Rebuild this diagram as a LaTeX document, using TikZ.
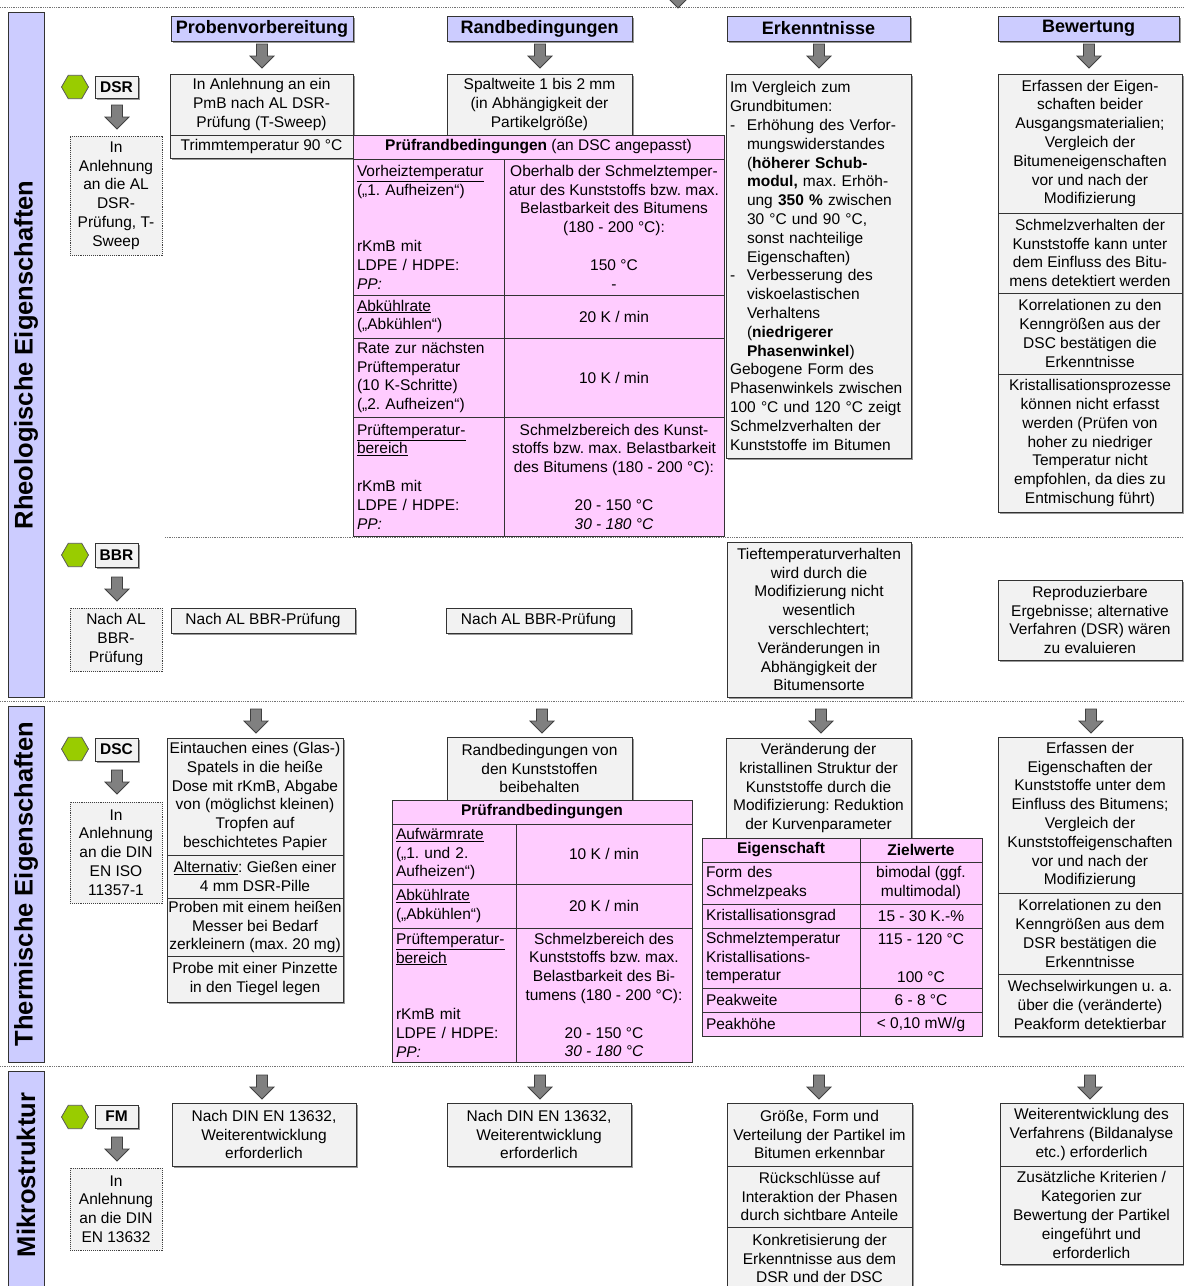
\documentclass[tikz,border=0pt]{standalone}
\usepackage{fontspec}
\setmainfont{Liberation Sans}
\usetikzlibrary{shapes.geometric,shadows}

\definecolor{lavender}{HTML}{CCCCFF}
\definecolor{boxgray}{HTML}{F2F2F2}
\definecolor{tablepink}{HTML}{FFCCFF}
\definecolor{hexgreen}{HTML}{99CC00}
\definecolor{arrowfill}{HTML}{808080}
\definecolor{edge}{HTML}{333333}

\frenchspacing
\newcommand\bodyfont{\fontsize{15.5}{18.8}\selectfont}
\newcommand\headfont{\fontsize{18}{21}\selectfont\bfseries}
\newcommand\sidefont{\fontsize{25.5}{28}\selectfont\bfseries}
\newcommand\ind{\hspace*{17pt}}
\newcommand\itemdash{\makebox[17pt][l]{-}}
\newcommand\gap{\mbox{}}

% box between the corners (#3,#4) and (#5,#6), text centred
\newcommand\bx[7][]{%
  \pgfmathsetmacro\bxw{#5-#3}\pgfmathsetmacro\bxh{#6-#4}%
  \pgfmathsetmacro\bxcx{(#3+#5)/2}\pgfmathsetmacro\bxcy{(#4+#6)/2}%
  \node[cell,#1,minimum width=\bxw pt,minimum height=\bxh pt,boxshadow] (#2) at (\bxcx,\bxcy) {#7};}
% same box, text set flush left
\newcommand\bxl[7][]{%
  \pgfmathsetmacro\bxw{#5-#3}\pgfmathsetmacro\bxh{#6-#4}%
  \pgfmathsetmacro\bxtw{#5-#3-8}%
  \pgfmathsetmacro\bxcx{(#3+#5)/2}\pgfmathsetmacro\bxcy{(#4+#6)/2}%
  \node[cell,#1,align=left,text width=\bxtw pt,minimum width=\bxw pt,minimum height=\bxh pt,boxshadow] (#2) at (\bxcx,\bxcy) {#7};}

\begin{document}
\begin{tikzpicture}[x=1pt,y=-1pt,
  cell/.style={draw=edge, line width=0.9pt, fill=boxgray, inner sep=0pt, font=\bodyfont, align=center},
  boxshadow/.style={drop shadow={shadow xshift=1.6pt, shadow yshift=-1.6pt, fill=black!40, opacity=1}},
  noshadow/.style={boxshadow/.style={}},
  pinkcell/.style={fill=tablepink, noshadow},
  headcell/.style={fill=lavender, font=\headfont},
  tagcell/.style={font=\bodyfont\bfseries},
  dotcell/.style={densely dotted, draw=black!75, noshadow},
  sidebar/.style={fill=lavender, noshadow},
  sidelabel/.style={font=\sidefont, rotate=90, inner sep=0pt},
  sep/.style={densely dotted, draw=black!55, line width=0.8pt},
  hexa/.style={regular polygon, regular polygon sides=6, minimum size=27pt, inner sep=0pt,
    fill=hexgreen, draw=black!65, line width=0.8pt},
  dnarrow/.pic={\draw[fill=arrowfill, draw=black!75, line width=0.8pt]
    (-5.5,0) -- (5.5,0) -- (5.5,12) -- (12,12) -- (0,24) -- (-12,12) -- (-5.5,12) -- cycle;}
]
\useasboundingbox (0,0) rectangle (1184,1286);

% section separators
\draw[sep] (0,7) -- (1184,7);
\draw[sep] (0,701) -- (1184,701);
\draw[sep] (0,1066) -- (1184,1066);
\draw[sep] (165,537) -- (1184,537);
\pic at (678,-16) {dnarrow};

% side bars
\bx[sidebar]{barRheo}{8}{12}{44}{697}{}
\node[sidelabel] (labRheo) at (26,355) {Rheologische Eigenschaften};
\bx[sidebar]{barTherm}{8}{706}{44}{1062}{}
\node[sidelabel] (labTherm) at (26,884) {Thermische Eigenschaften};
\bx[sidebar]{barMikro}{8}{1071}{44}{1296}{}
\node[sidelabel] (labMikro) at (26,1175) {Mikrostruktur};

% column heads
\bx[headcell]{hdProb}{171}{16}{353}{41}{Probenvorbereitung}
\bx[headcell]{hdRand}{447}{16}{632}{41}{Randbedingungen}
\bx[headcell]{hdErk}{727}{16}{910}{41}{Erkenntnisse}
\bx[headcell]{hdBew}{998}{16}{1179}{41}{Bewertung}
\pic at (262,44) {dnarrow};
\pic at (540,44) {dnarrow};
\pic at (819,44) {dnarrow};
\pic at (1089,44) {dnarrow};

% ---------------- DSR ----------------
\node[hexa] (hexDSR) at (75,87) {};
\bx[tagcell]{tagDSR}{95}{76}{138}{98}{DSR}
\pic at (117,105) {dnarrow};
\bx[dotcell]{refDSR}{70}{136}{162}{255}{In\\Anlehnung\\an die AL\\DSR-\\Prüfung, T-\\Sweep}
\bx{probDSR}{170}{74}{353}{135}{In Anlehnung an ein\\PmB nach AL DSR-\\Prüfung (T-Sweep)}
\bx{trimDSR}{170}{135}{353}{158}{Trimmtemperatur 90 °C}
\bx{randDSR}{447}{74}{632}{135}{Spaltweite 1 bis 2 mm\\(in Abhängigkeit der\\Partikelgröße)}

\bx[pinkcell]{tD0}{353}{135}{724}{159}{\textbf{Prüfrandbedingungen} (an DSC angepasst)}
\bxl[pinkcell]{tD1a}{353}{159}{504}{295}{\underline{Vorheiztemperatur}\\(„1. Aufheizen“)\\\gap\\\gap\\rKmB mit\\LDPE / HDPE:\\\textit{PP:}}
\bx[pinkcell]{tD1b}{504}{159}{724}{295}{Oberhalb der Schmelztemper-\\atur des Kunststoffs bzw. max.\\Belastbarkeit des Bitumens\\(180 - 200 °C):\\\gap\\150 °C\\-}
\bxl[pinkcell]{tD2a}{353}{295}{504}{338}{\underline{Abkühlrate}\\(„Abkühlen“)}
\bx[pinkcell]{tD2b}{504}{295}{724}{338}{20 K / min}
\bxl[pinkcell]{tD3a}{353}{338}{504}{417}{Rate zur nächsten\\Prüftemperatur\\(10 K-Schritte)\\(„2. Aufheizen“)}
\bx[pinkcell]{tD3b}{504}{338}{724}{417}{10 K / min}
\bxl[pinkcell]{tD4a}{353}{417}{504}{536}{\underline{Prüftemperatur-}\\\underline{bereich}\\\gap\\rKmB mit\\LDPE / HDPE:\\\textit{PP:}}
\bx[pinkcell]{tD4b}{504}{417}{724}{536}{Schmelzbereich des Kunst-\\stoffs bzw. max. Belastbarkeit\\des Bitumens (180 - 200 °C):\\\gap\\20 - 150 °C\\\textit{30 - 180 °C}}

\bxl{erkDSR}{726}{74}{911}{458}{Im Vergleich zum\\Grundbitumen:\\
\itemdash Erhöhung des Verfor-\\\ind mungswiderstandes\\\ind (\textbf{höherer Schub-}\\\ind \textbf{modul,} max. Erhöh-\\\ind ung \textbf{350 \%} zwischen\\\ind 30 °C und 90 °C,\\\ind sonst nachteilige\\\ind Eigenschaften)\\
\itemdash Verbesserung des\\\ind viskoelastischen\\\ind Verhaltens\\\ind (\textbf{niedrigerer}\\\ind \textbf{Phasenwinkel})\\
Gebogene Form des\\Phasenwinkels zwischen\\100 °C und 120 °C zeigt\\Schmelzverhalten der\\Kunststoffe im Bitumen}

\bx{bewDSRa}{998}{74}{1182}{213}{Erfassen der Eigen-\\schaften beider\\Ausgangsmaterialien;\\Vergleich der\\Bitumeneigenschaften\\vor und nach der\\Modifizierung}
\bx{bewDSRb}{998}{213}{1182}{293}{Schmelzverhalten der\\Kunststoffe kann unter\\dem Einfluss des Bitu-\\mens detektiert werden}
\bx{bewDSRc}{998}{293}{1182}{374}{Korrelationen zu den\\Kenngrößen aus der\\DSC bestätigen die\\Erkenntnisse}
\bx{bewDSRd}{998}{374}{1182}{512}{Kristallisationsprozesse\\können nicht erfasst\\werden (Prüfen von\\hoher zu niedriger\\Temperatur nicht\\empfohlen, da dies zu\\Entmischung führt)}

% ---------------- BBR ----------------
\node[hexa] (hexBBR) at (75,555) {};
\bx[tagcell]{tagBBR}{95}{543}{138}{567}{BBR}
\pic at (117,577) {dnarrow};
\bx[dotcell]{refBBR}{70}{608}{162}{671}{Nach AL\\BBR-\\Prüfung}
\bx{probBBR}{171}{608}{355}{633}{Nach AL BBR-Prüfung}
\bx{randBBR}{446}{608}{631}{633}{Nach AL BBR-Prüfung}
\bx{erkBBR}{727}{542}{911}{697}{Tieftemperaturverhalten\\wird durch die\\Modifizierung nicht\\wesentlich\\verschlechtert;\\Veränderungen in\\Abhängigkeit der\\Bitumensorte}
\bx{bewBBR}{998}{580}{1182}{660}{Reproduzierbare\\Ergebnisse; alternative\\Verfahren (DSR) wären\\zu evaluieren}

% ---------------- DSC ----------------
\pic at (256,709) {dnarrow};
\pic at (542,709) {dnarrow};
\pic at (821,709) {dnarrow};
\pic at (1091,709) {dnarrow};
\node[hexa] (hexDSC) at (75,749) {};
\bx[tagcell]{tagDSC}{95}{738}{138}{761}{DSC}
\pic at (117,770) {dnarrow};
\bx[dotcell]{refDSC}{70}{802}{162}{903}{In\\Anlehnung\\an die DIN\\EN ISO\\11357-1}
\bx{probDSCa}{167}{738}{343}{855}{Eintauchen eines (Glas-)\\Spatels in die heiße\\Dose mit rKmB, Abgabe\\von (möglichst kleinen)\\Tropfen auf\\beschichtetes Papier}
\bx{probDSCb}{167}{855}{343}{898}{\underline{Alternativ}: Gießen einer\\4 mm DSR-Pille}
\bx{probDSCc}{167}{898}{343}{956}{Proben mit einem heißen\\Messer bei Bedarf\\zerkleinern (max. 20 mg)}
\bx{probDSCd}{167}{956}{343}{1002}{Probe mit einer Pinzette\\in den Tiegel legen}

\bx{randDSC}{447}{737}{632}{800}{Randbedingungen von\\den Kunststoffen\\beibehalten}
\bx[pinkcell]{tT0}{392}{800}{692}{824}{\textbf{Prüfrandbedingungen}}
\bxl[pinkcell]{tT1a}{392}{824}{516}{884}{\underline{Aufwärmrate}\\(„1. und 2.\\Aufheizen“)}
\bx[pinkcell]{tT1b}{516}{824}{692}{884}{10 K / min}
\bxl[pinkcell]{tT2a}{392}{884}{516}{928}{\underline{Abkühlrate}\\(„Abkühlen“)}
\bx[pinkcell]{tT2b}{516}{884}{692}{928}{20 K / min}
\bxl[pinkcell]{tT3a}{392}{928}{516}{1062}{\underline{Prüftemperatur-}\\\underline{bereich}\\\gap\\\gap\\rKmB mit\\LDPE / HDPE:\\\textit{PP:}}
\bx[pinkcell]{tT3b}{516}{928}{692}{1062}{Schmelzbereich des\\Kunststoffs bzw. max.\\Belastbarkeit des Bi-\\tumens (180 - 200 °C):\\\gap\\20 - 150 °C\\\textit{30 - 180 °C}}

\bx{erkDSC}{726}{738}{911}{838}{Veränderung der\\kristallinen Struktur der\\Kunststoffe durch die\\Modifizierung: Reduktion\\der Kurvenparameter}
\bx[pinkcell,tagcell]{zH1}{702}{838}{860}{862}{Eigenschaft}
\bx[pinkcell,tagcell]{zH2}{860}{838}{982}{862}{Zielwerte}
\bxl[pinkcell]{zR1a}{702}{862}{860}{904}{Form des\\Schmelzpeaks}
\bx[pinkcell]{zR1b}{860}{862}{982}{904}{bimodal (ggf.\\multimodal)}
\bxl[pinkcell]{zR2a}{702}{904}{860}{928}{Kristallisationsgrad}
\bx[pinkcell]{zR2b}{860}{904}{982}{928}{15 - 30 K.-\%}
\bxl[pinkcell]{zR3a}{702}{928}{860}{988}{Schmelztemperatur\\Kristallisations-\\temperatur}
\bx[pinkcell]{zR3b}{860}{928}{982}{988}{115 - 120 °C\\\gap\\100 °C}
\bxl[pinkcell]{zR4a}{702}{988}{860}{1012}{Peakweite}
\bx[pinkcell]{zR4b}{860}{988}{982}{1012}{6 - 8 °C}
\bxl[pinkcell]{zR5a}{702}{1012}{860}{1036}{Peakhöhe}
\bx[pinkcell]{zR5b}{860}{1012}{982}{1036}{< 0,10 mW/g}

\bx{bewDSCa}{998}{737}{1182}{893}{Erfassen der\\Eigenschaften der\\Kunststoffe unter dem\\Einfluss des Bitumens;\\Vergleich der\\Kunststoffeigenschaften\\vor und nach der\\Modifizierung}
\bx{bewDSCb}{998}{893}{1182}{974}{Korrelationen zu den\\Kenngrößen aus dem\\DSR bestätigen die\\Erkenntnisse}
\bx{bewDSCc}{998}{974}{1182}{1036}{Wechselwirkungen u. a.\\über die (veränderte)\\Peakform detektierbar}

% ---------------- FM ----------------
\pic at (262,1075) {dnarrow};
\pic at (540,1075) {dnarrow};
\pic at (819,1075) {dnarrow};
\pic at (1090,1075) {dnarrow};
\node[hexa] (hexFM) at (75,1117) {};
\bx[tagcell]{tagFM}{95}{1105}{138}{1128}{FM}
\pic at (117,1137) {dnarrow};
\bx[dotcell]{refFM}{70}{1168}{162}{1250}{In\\Anlehnung\\an die DIN\\EN 13632}
\bx{probFM}{172}{1103}{356}{1166}{Nach DIN EN 13632,\\Weiterentwicklung\\erforderlich}
\bx{randFM}{447}{1103}{631}{1166}{Nach DIN EN 13632,\\Weiterentwicklung\\erforderlich}
\bx{erkFMa}{727}{1103}{912}{1166}{Größe, Form und\\Verteilung der Partikel im\\Bitumen erkennbar}
\bx{erkFMb}{727}{1166}{912}{1227}{Rückschlüsse auf\\Interaktion der Phasen\\durch sichtbare Anteile}
\bx{erkFMc}{727}{1227}{912}{1290}{Konkretisierung der\\Erkenntnisse aus dem\\DSR und der DSC}
\bx{bewFMa}{1000}{1103}{1183}{1166}{Weiterentwicklung des\\Verfahrens (Bildanalyse\\etc.) erforderlich}
\bx{bewFMb}{1000}{1166}{1183}{1264}{Zusätzliche Kriterien /\\Kategorien zur\\Bewertung der Partikel\\eingeführt und\\erforderlich}
\end{tikzpicture}
\end{document}
